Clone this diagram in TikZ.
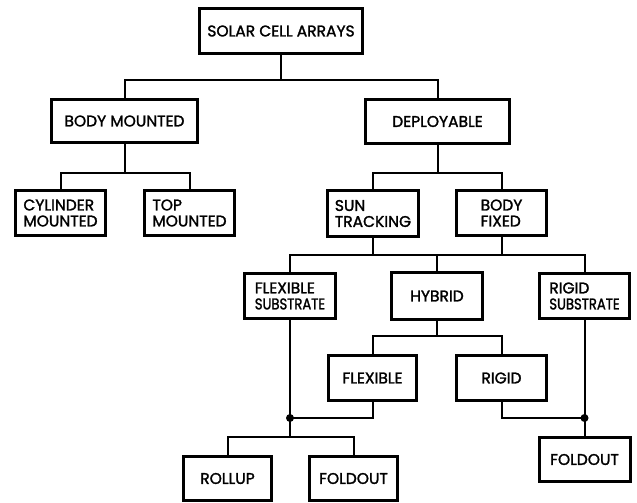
\documentclass[tikz,border=0pt]{standalone}
\usepackage{graphicx}
\usepackage{fontspec}
\setmainfont{Poppins}[FakeBold=1.6]
% narrower setting for the long word in the substrate boxes
\newcommand{\narrowword}[1]{\scalebox{0.85}[1]{#1}}
\begin{document}
\begin{tikzpicture}[x=1pt,y=-1pt,
  box/.style={draw, line width=3pt, inner sep=0pt, align=left,
    font=\fontsize{15.5}{16}\selectfont},
  conn/.style={line width=2pt},
  jdot/.style={circle, fill, inner sep=0pt, minimum size=8pt}]
\useasboundingbox (0,0) rectangle (637,503);

% boxes, top to bottom
\node[box, minimum width=163pt, minimum height=45pt] (root) at (281,31) {SOLAR CELL ARRAYS};
\node[box, minimum width=146pt, minimum height=43pt] (bm) at (124.5,121) {BODY MOUNTED};
\node[box, minimum width=144pt, minimum height=44pt] (dep) at (437.5,121.5) {DEPLOYABLE};
\node[box, minimum width=90pt, minimum height=45pt] (cyl) at (60.5,213) {CYLINDER\\MOUNTED};
\node[box, minimum width=90pt, minimum height=45pt] (top) at (189.5,213) {TOP\\MOUNTED};
\node[box, minimum width=91pt, minimum height=46pt] (sun) at (373,213.5) {SUN\\TRACKING};
\node[box, minimum width=90pt, minimum height=45pt] (bfx) at (501.5,213) {BODY\\FIXED};
\node[box, minimum width=91pt, minimum height=45pt] (fsub) at (290,296) {FLEXIBLE\\\narrowword{SUBSTRATE}};
\node[box, minimum width=91pt, minimum height=47pt] (hyb) at (437,296) {HYBRID};
\node[box, minimum width=90pt, minimum height=45pt] (rsub) at (584.5,296) {RIGID\\\narrowword{SUBSTRATE}};
\node[box, minimum width=88pt, minimum height=45pt] (flex) at (372.5,378) {FLEXIBLE};
\node[box, minimum width=90pt, minimum height=45pt] (rigid) at (501.5,378) {RIGID};
\node[box, minimum width=88pt, minimum height=44pt] (rollup) at (227.5,478.5) {ROLLUP};
\node[box, minimum width=88pt, minimum height=44pt] (fold1) at (353.5,478.5) {FOLDOUT};
\node[box, minimum width=91pt, minimum height=44pt] (fold2) at (584.5,459.5) {FOLDOUT};

% junction points
\coordinate (j0) at (281,80);
\coordinate (j1) at (124.5,173);
\coordinate (j2) at (437.5,173);
\coordinate (j3) at (437,255);
\coordinate (j4) at (437,336);
\coordinate (j5) at (290,437);
\node[jdot] (d1) at (290,418) {};
\node[jdot] (d2) at (584.5,418) {};

% connectors
\draw[conn] (root.south) -- (j0);
\draw[conn] (bm.north) |- (j0) -| (dep.north);
\draw[conn] (bm.south) -- (j1);
\draw[conn] (cyl.north) |- (j1) -| (top.north);
\draw[conn] (dep.south) -- (j2);
\draw[conn] (sun.north) |- (j2) -| (bfx.north);
\draw[conn] (sun.south) |- (j3);
\draw[conn] (bfx.south) |- (j3);
\draw[conn] (fsub.north) |- (j3) -| (rsub.north);
\draw[conn] (j3) -- (hyb.north);
\draw[conn] (hyb.south) -- (j4);
\draw[conn] (flex.north) |- (j4) -| (rigid.north);
\draw[conn] (fsub.south) -- (d1.center);
\draw[conn] (flex.south) |- (d1.center);
\draw[conn] (d1.center) -- (j5);
\draw[conn] (rollup.north) |- (j5) -| (fold1.north);
\draw[conn] (rsub.south) -- (d2.center) -- (fold2.north);
\draw[conn] (rigid.south) |- (d2.center);
\end{tikzpicture}
\end{document}
